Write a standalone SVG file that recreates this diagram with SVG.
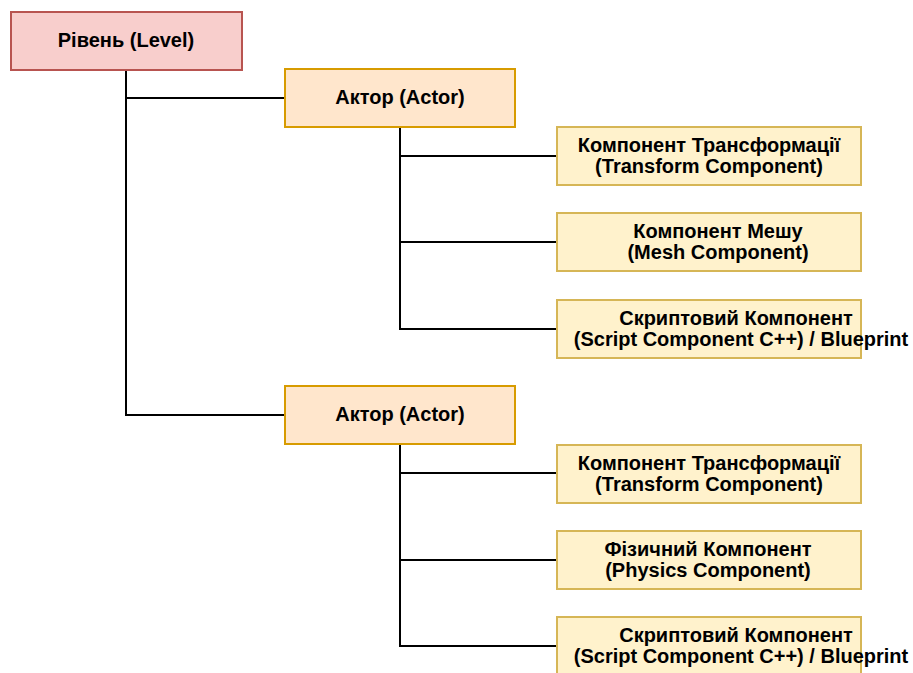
<svg xmlns="http://www.w3.org/2000/svg" width="913" height="673" viewBox="0 0 913 673">
<style>
text{font-family:"Liberation Sans",Arial,sans-serif;font-weight:bold;font-size:20px;fill:#000;text-anchor:middle}
.lvl{fill:#f8cecc;stroke:#b85450;stroke-width:2}
.act{fill:#ffe6cc;stroke:#d79b00;stroke-width:2}
.cmp{fill:#fff2cc;stroke:#d6b656;stroke-width:2}
.c{fill:none;stroke:#000;stroke-width:2}
</style>
<rect width="913" height="673" fill="#fff"/>
<g id="connectors">
<path class="c" d="M126 70V415H285M126 98H285"/>
<path class="c" d="M400 127V329H557M400 156H557M400 242H557"/>
<path class="c" d="M400 444V646H557M400 473H557M400 560H557"/>
</g>
<g id="level"><rect class="lvl" x="11" y="12" width="231" height="58"/><text x="126" y="47">Рівень (Level)</text></g>
<g id="actor1"><rect class="act" x="285" y="69" width="230" height="58"/><text x="400" y="104">Актор (Actor)</text></g>
<g id="transform1"><rect class="cmp" x="557" y="127" width="304" height="58"/><text x="709" y="152">Компонент Трансформації</text><text x="709" y="173">(Transform Component)</text></g>
<g id="mesh1"><rect class="cmp" x="557" y="213" width="304" height="58"/><text x="718" y="238">Компонент Мешу</text><text x="718" y="259">(Mesh Component)</text></g>
<g id="script1"><rect class="cmp" x="557" y="300" width="304" height="58"/><text x="736" y="325">Скриптовий Компонент</text><text x="741" y="346">(Script Component C++) / Blueprint</text></g>
<g id="actor2"><rect class="act" x="285" y="386" width="230" height="58"/><text x="400" y="421">Актор (Actor)</text></g>
<g id="transform2"><rect class="cmp" x="557" y="445" width="304" height="58"/><text x="709" y="470">Компонент Трансформації</text><text x="709" y="491">(Transform Component)</text></g>
<g id="physics2"><rect class="cmp" x="557" y="531" width="304" height="58"/><text x="708" y="556">Фізичний Компонент</text><text x="708" y="577">(Physics Component)</text></g>
<g id="script2"><rect class="cmp" x="557" y="617" width="304" height="58"/><text x="736" y="642">Скриптовий Компонент</text><text x="741" y="663">(Script Component C++) / Blueprint</text></g>
</svg>
